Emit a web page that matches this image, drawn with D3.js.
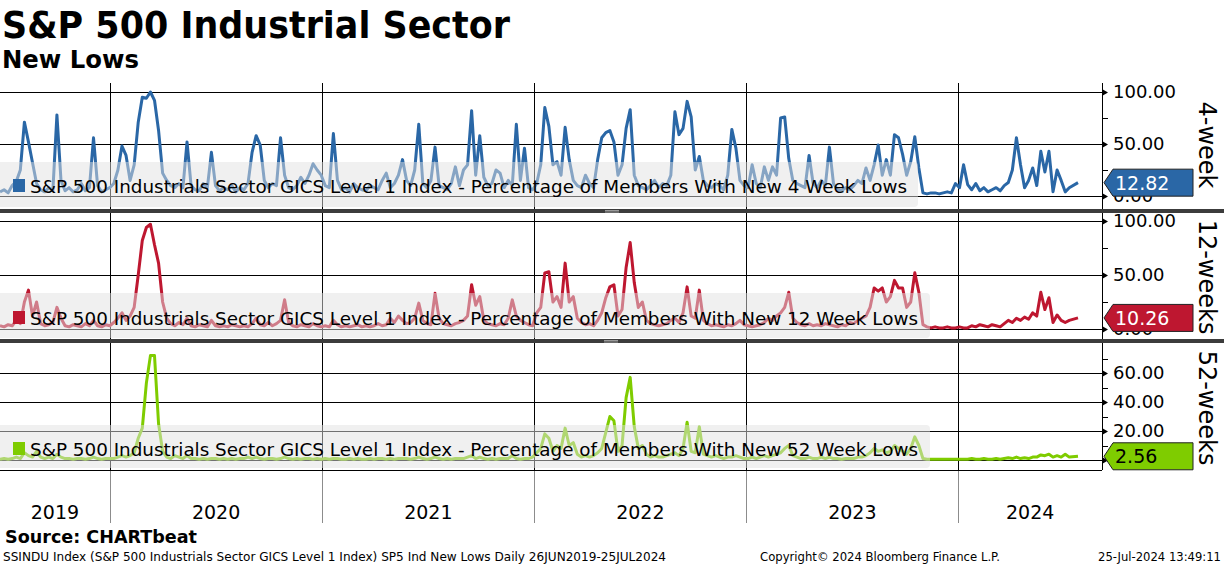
<!DOCTYPE html>
<html>
<head>
<meta charset="utf-8">
<script src="https://cdn.jsdelivr.net/npm/d3@7"></script>
<style>
body { margin: 0; background: #fff; }
text { font-family: "DejaVu Sans", Tahoma, sans-serif; }
</style>
</head>
<body>
<div id="chart"></div>
<script>
// weekly readings, 26 Jun 2019 .. 25 Jul 2024
var startDate = new Date(2019, 5, 26),
    endDate = new Date(2024, 6, 25);
var years = ["2019", "2020", "2021", "2022", "2023", "2024"];

var lows4 = [4,6,3,10,14,25,71,52,32,12, 6,4,8,5,78,15,5,8,4,6, 12,5,8,56,10,4,6,8,12,25,
  48,39,15,30,71,95,94,100,92,63, 22,15,10,8,12,8,52,10,6,5, 12,8,42,10,5,8,6,10,4,8,
  6,12,42,58,49,15,8,12,10,56, 20,8,6,10,18,12,20,31,25,20, 10,8,60,15,6,8,4,12,8,6,
  5,10,8,6,15,22,8,12,20,35, 15,10,25,69,12,8,15,47,10,8, 6,12,28,10,25,30,82,20,58,18,
  10,12,25,22,8,15,10,69,15,46, 8,6,12,30,85,67,30,33,20,66, 35,15,10,8,20,12,8,35,56,61,
  63,52,20,30,65,83,20,10,8,6, 10,15,8,12,10,20,81,59,65,91, 76,25,38,15,10,8,12,10,6,20,
  64,46,15,10,8,30,12,8,28,15, 28,20,75,76,36,15,12,10,8,39, 12,8,15,10,47,12,6,5,8,6,
  10,15,12,27,15,30,49,20,35,20, 59,56,40,20,33,57,27,3,2,3, 3,2,3,4,3,12,8,30,11,6,
  12,5,8,4,6,8,5,10,13,25, 56,30,8,15,27,10,43,23,43,4, 25,15,4,8,12.82];

var lows12 = [3,2,4,3,8,5,25,36,12,25, 5,3,4,6,20,10,3,2,4,3, 2,5,3,8,3,2,4,3,6,10,
  15,8,12,20,50,82,94,97,78,61, 25,10,5,3,6,4,10,3,2,4, 3,2,8,3,2,3,2,4,3,2,
  3,2,5,10,4,3,6,3,5,8, 27,6,3,2,4,3,2,5,3,2, 3,2,8,4,2,3,2,3,4,2,
  3,2,3,5,3,4,10,6,12,8, 5,6,10,24,8,5,4,33,10,5, 4,3,5,6,8,12,41,22,30,8,
  5,4,3,5,4,10,27,12,8,6, 4,3,15,20,52,53,25,30,20,61, 25,30,10,6,4,5,3,8,15,29,
  39,41,12,18,57,80,43,20,25,8, 5,4,3,4,5,8,10,6,15,39, 12,10,36,8,5,3,4,3,2,4,
  3,5,8,4,3,2,3,4,6,10, 8,12,15,20,34,10,6,4,3,5, 3,4,3,5,4,3,2,4,3,6,
  5,8,10,12,20,38,35,38,25,30, 45,38,38,20,25,52,34,4,2,1, 2,1,1,2,1,1,2,1,1,3,
  2,4,3,2,4,3,2,5,8,6, 10,8,11,9,15,12,34,18,29,6, 13,8,6,8,10.26];

var lows52 = [0.5,1,0.5,1,2,1,5,3,2,6, 2,1,2,1,4,2,1,1,0.5,1, 1,0.5,1,2,1,0.5,1,1,1,2,
  3,2,3,5,15,22,53,72,72,25, 6,2,1,3,2,1,3,1,1,0.5, 1,0.5,1,1,0.5,1,0.5,1,0.5,1,
  1,2,1,2,1,0.5,1,1,0.5,1, 2,1,0.5,1,0.5,1,1,0.5,1,0.5, 1,0.5,1,1,0.5,0.5,1,0.5,1,0.5,
  0.5,1,0.5,1,1,0.5,1,0.5,1,1, 1,0.5,1,2,1,0.5,1,2,1,0.5, 1,0.5,1,1,1,2,3,1,2,1,
  0.5,1,0.5,1,1,1,3,1,0.5,1, 1,2,5,8,18,15,6,10,8,22, 10,12,4,2,3,2,3,5,8,19,
  30,27,6,10,43,57,23,8,10,4, 2,3,2,2,3,4,5,3,8,26, 6,5,23,4,3,2,3,2,1,2,
  2,3,2,1,1,2,1,2,3,2, 3,4,5,8,10,3,2,1,1,2, 1,1,2,1,2,1,1,0.5,1,1,
  1,2,2,3,5,8,6,7,5,6, 10,8,6,4,8,16,10,1,0.5,0.5, 0.5,0.5,0.5,0.5,0.5,0.5,0.5,0.5,0.5,1,
  0.5,0.5,1,0.5,0.5,1,0.5,1,1.5,1, 2,1,1.5,1,2,2,3.5,3,4,2, 3,2,4,2,2.56];

var seriesNames = [
  "S&P 500 Industrials Sector GICS Level 1 Index - Percentage of Members With New 4 Week Lows",
  "S&P 500 Industrials Sector GICS Level 1 Index - Percentage of Members With New 12 Week Lows",
  "S&P 500 Industrials Sector GICS Level 1 Index - Percentage of Members With New 52 Week Lows"
];
var panelLabels = ["4-week", "12-weeks", "52-weeks"];

var W = 1224, H = 566, axisX = 1102;

var svg = d3.select("#chart").append("svg").attr("width", W).attr("height", H);

var x = d3.scaleTime().domain([startDate, endDate]).range([0, 1078]);

function toPoints(values) {
  return values.map(function(v, i) {
    var d = i === values.length - 1 ? endDate : d3.timeDay.offset(startDate, 7 * i);
    return [d, v];
  });
}

var panels = [
  { values: lows4, color: "#2a67a6", textColor: "#fff", top: 83, bottom: 209,
    y: d3.scaleLinear().domain([0, 100]).range([196, 92]), ticks: [0, 50, 100], labels: [0, 50, 100], minor: [25, 75],
    box: [162, 207, 918], textW: 877, base: 193, labelY: 145 },
  { values: lows12, color: "#be1730", textColor: "#fff", top: 213, bottom: 339,
    y: d3.scaleLinear().domain([0, 100]).range([329, 221]), ticks: [0, 50, 100], labels: [0, 50, 100], minor: [25, 75],
    box: [293, 338, 930], textW: 888, base: 325, labelY: 277 },
  { values: lows52, color: "#7fcc00", textColor: "#000", top: 343, bottom: 470,
    y: d3.scaleLinear().domain([0, 60]).range([460, 373]), ticks: [0, 20, 40, 60], labels: [20, 40, 60], minor: [10, 30, 50, 70],
    box: [425, 468, 930], textW: 888, base: 456, labelY: 408 }
];

var yearStarts = years.map(function(y) { return new Date(+y, 0, 1); });

panels.forEach(function(p, k) {
  var g = svg.append("g");
  var clipId = "clip" + k;
  svg.append("clipPath").attr("id", clipId).append("rect")
    .attr("x", 0).attr("y", p.top).attr("width", axisX).attr("height", p.bottom - p.top);

  // grid
  g.selectAll(".hg").data(p.ticks).enter().append("line")
    .attr("x1", 0).attr("x2", axisX)
    .attr("y1", function(d) { return Math.round(p.y(d)) + 0.5; })
    .attr("y2", function(d) { return Math.round(p.y(d)) + 0.5; })
    .attr("stroke", "#000").attr("stroke-width", 1);
  g.selectAll(".vg").data(yearStarts.slice(1)).enter().append("line")
    .attr("x1", function(d) { return Math.round(x(d)) + 0.5; })
    .attr("x2", function(d) { return Math.round(x(d)) + 0.5; })
    .attr("y1", p.top).attr("y2", p.bottom)
    .attr("stroke", "#000").attr("stroke-width", 1);

  // series
  var line = d3.line().x(function(d) { return x(d[0]); }).y(function(d) { return p.y(d[1]); });
  g.append("path").datum(toPoints(p.values))
    .attr("clip-path", "url(#" + clipId + ")")
    .attr("d", line).attr("fill", "none")
    .attr("stroke", p.color).attr("stroke-width", 3).attr("stroke-linejoin", "round");

  // legend
  g.append("rect").attr("x", -6).attr("y", p.box[0]).attr("width", p.box[2] + 6)
    .attr("height", p.box[1] - p.box[0]).attr("rx", 4)
    .attr("fill", "rgb(226,226,226)").attr("fill-opacity", 0.5);
  g.append("rect").attr("x", 13).attr("y", p.base - 14).attr("width", 12).attr("height", 13)
    .attr("fill", p.color);
  g.append("text").attr("x", 30).attr("y", p.base).attr("font-size", 18)
    .attr("textLength", p.textW).attr("lengthAdjust", "spacingAndGlyphs")
    .attr("fill", "#000").text(seriesNames[k]);

  // right axis
  var ax = g.append("g").attr("transform", "translate(" + axisX + ",0)")
    .call(d3.axisRight(p.y).tickValues(p.labels).tickSize(0).tickPadding(11).tickFormat(d3.format(".2f")));
  ax.select(".domain").remove();
  ax.selectAll("text").attr("font-size", 18).attr("font-family", "DejaVu Sans").attr("fill", "#000");
  g.selectAll(".arr").data(p.ticks).enter().append("path")
    .attr("d", function(d) { var yy = Math.round(p.y(d)) + 0.5; return "M" + axisX + "," + (yy - 3.5) + "L" + (axisX + 6) + "," + yy + "L" + axisX + "," + (yy + 3.5) + "Z"; })
    .attr("fill", "#000");
  g.selectAll(".mt").data(p.minor.filter(function(d) { return p.y(d) > p.top + 2; })).enter().append("line")
    .attr("x1", axisX).attr("x2", axisX + 6)
    .attr("y1", function(d) { return Math.round(p.y(d)) + 0.5; })
    .attr("y2", function(d) { return Math.round(p.y(d)) + 0.5; })
    .attr("stroke", "#000");

  // last value badge
  var last = p.values[p.values.length - 1];
  var cy = p.y(last);
  g.append("path")
    .attr("d", "M1104," + cy + "L1113," + (cy - 13.5) + "L1193," + (cy - 13.5) + "L1193," + (cy + 13.5) + "L1113," + (cy + 13.5) + "Z")
    .attr("fill", p.color).attr("stroke", "#222").attr("stroke-width", 1);
  g.append("text").attr("x", 1115).attr("y", cy + 7).attr("font-size", 19)
    .attr("fill", p.textColor).text(d3.format(".2f")(last));

  // panel label
  g.append("text").attr("transform", "translate(1199," + p.labelY + ") rotate(90)")
    .attr("text-anchor", "middle").attr("font-size", 24).attr("fill", "#000")
    .text(panelLabels[k]);
});

// axis line and separators
svg.append("line").attr("x1", axisX + 0.5).attr("x2", axisX + 0.5).attr("y1", 83).attr("y2", 470)
  .attr("stroke", "#000");
[209, 339].forEach(function(y0, i) {
  svg.append("rect").attr("x", 0).attr("y", y0).attr("width", W).attr("height", 4).attr("fill", "#3c3c3c");
  var gx = i === 0 ? 605 : 604;
  svg.append("line").attr("x1", gx).attr("x2", gx + 14).attr("y1", y0 + 1.5).attr("y2", y0 + 1.5).attr("stroke", "#9a9a9a");
  svg.append("line").attr("x1", gx).attr("x2", gx + 14).attr("y1", y0 + 3).attr("y2", y0 + 3).attr("stroke", "#9a9a9a");
});
svg.append("line").attr("x1", 0).attr("x2", axisX).attr("y1", 470.5).attr("y2", 470.5).attr("stroke", "#000");

// x axis: year bands
svg.selectAll(".yl").data(yearStarts.slice(1)).enter().append("line")
  .attr("x1", function(d) { return Math.round(x(d)) + 0.5; })
  .attr("x2", function(d) { return Math.round(x(d)) + 0.5; })
  .attr("y1", 471).attr("y2", 523).attr("stroke", "#8c8c8c");
var bounds = [0].concat(yearStarts.slice(1).map(function(d) { return x(d); })).concat([axisX]);
svg.selectAll(".yt").data(years).enter().append("text")
  .attr("x", function(d, i) { return (bounds[i] + bounds[i + 1]) / 2; })
  .attr("y", 519).attr("text-anchor", "middle").attr("font-size", 19).attr("fill", "#000")
  .text(function(d) { return d; });

// titles
svg.append("text").attr("x", 2).attr("y", 38).attr("font-size", 38).attr("font-weight", "bold")
  .attr("textLength", 508).attr("lengthAdjust", "spacingAndGlyphs").text("S&P 500 Industrial Sector");
svg.append("text").attr("x", 2).attr("y", 68).attr("font-size", 25).attr("font-weight", "bold")
  .attr("textLength", 137).attr("lengthAdjust", "spacingAndGlyphs").text("New Lows");

// footer
svg.append("text").attr("x", 5).attr("y", 543).attr("font-size", 17).attr("font-weight", "bold")
  .attr("textLength", 192).attr("lengthAdjust", "spacingAndGlyphs").text("Source: CHARTbeat");
svg.append("text").attr("x", 3).attr("y", 561).attr("font-size", 12)
  .attr("textLength", 663).attr("lengthAdjust", "spacingAndGlyphs")
  .text("SSINDU Index (S&P 500 Industrials Sector GICS Level 1 Index) SP5 Ind New Lows  Daily 26JUN2019-25JUL2024");
svg.append("text").attr("x", 760).attr("y", 561).attr("font-size", 12)
  .attr("textLength", 240).attr("lengthAdjust", "spacingAndGlyphs")
  .text("Copyright\u00A9 2024 Bloomberg Finance L.P.");
svg.append("text").attr("x", 1098).attr("y", 561).attr("font-size", 12)
  .attr("textLength", 123).attr("lengthAdjust", "spacingAndGlyphs")
  .text("25-Jul-2024 13:49:11");
</script>
</body>
</html>
